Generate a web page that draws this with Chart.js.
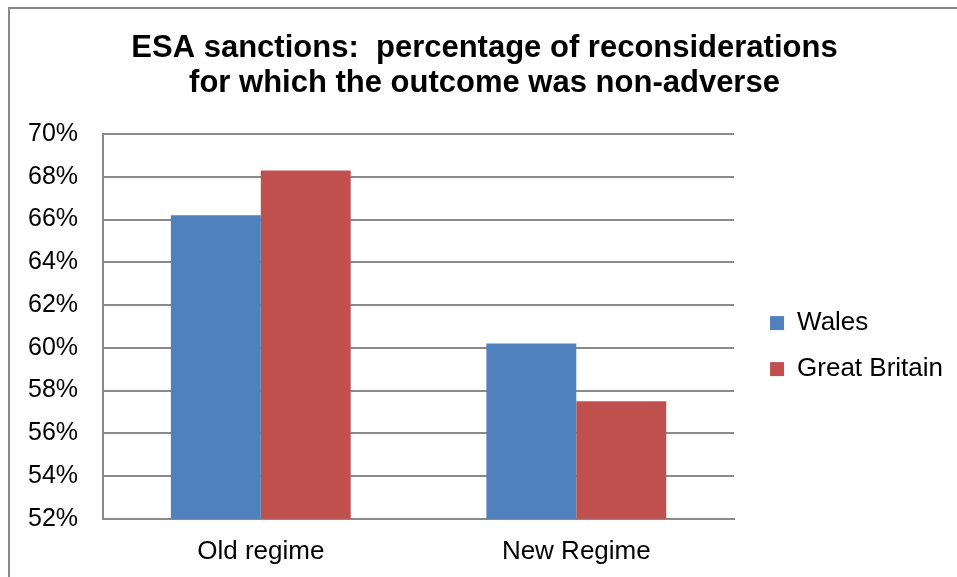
<!DOCTYPE html>
<html>
<head>
<meta charset="utf-8">
<script src="https://cdn.jsdelivr.net/npm/chart.js@4/dist/chart.umd.min.js"></script>
<style>
  body { margin: 0; background: #fff; }
  #wrap { position: relative; width: 957px; height: 577px; overflow: hidden; }
  #frame {
    position: absolute; left: 8px; top: 7px; width: 980px; height: 600px;
    border-left: 2px solid #8a8a8a; border-top: 2px solid #8a8a8a;
    pointer-events: none;
  }
</style>
</head>
<body>
<div id="wrap">
  <canvas id="esaChart" width="957" height="577"></canvas>
  <div id="frame"></div>
</div>
<script>
var categories = ['Old regime', 'New Regime'];
var walesValues = [66.2, 60.2];
var britainValues = [68.3, 57.5];
var yMin = 52, yMax = 70, yStep = 2;
var titleLines = ['ESA sanctions:  percentage of reconsiderations', 'for which the outcome was non-adverse'];

var fontFamily = '"Liberation Sans", Arial, sans-serif';

// nudge legend and title sideways after layout (legend sits a bit off the plot)
var nudgePlugin = {
    id: 'nudge',
    afterLayout: function(chart) {
        if (chart.legend) {
            chart.legend.left += 16;
            chart.legend.right += 16;
        }
        if (chart.titleBlock) {
            chart.titleBlock.left += 14.5;
            chart.titleBlock.right += 14.5;
        }
    }
};

document.addEventListener('DOMContentLoaded', function() {
    var ctx = document.getElementById('esaChart').getContext('2d');
    var esaChart = new Chart(ctx, {
        type: 'bar',
        data: {
            labels: categories,
            datasets: [{
                label: 'Wales',
                data: walesValues,
                backgroundColor: '#4F81BD',
                borderWidth: 0
            }, {
                label: 'Great Britain',
                data: britainValues,
                backgroundColor: '#C0504D',
                borderWidth: 0
            }]
        },
        plugins: [nudgePlugin],
        options: {
            responsive: false,
            animation: false,
            devicePixelRatio: 1,
            layout: {
                padding: { left: 3, right: 20, top: 0, bottom: -8 }
            },
            datasets: {
                bar: {
                    categoryPercentage: 0.57,
                    barPercentage: 1
                }
            },
            scales: {
                x: {
                    grid: { display: false, drawTicks: false },
                    border: { display: true, color: '#8a8a8a', width: 2 },
                    ticks: {
                        color: '#000',
                        padding: 17.5,
                        font: { family: fontFamily, size: 26 }
                    }
                },
                y: {
                    min: yMin,
                    max: yMax,
                    grid: { color: '#8a8a8a', lineWidth: 2, drawTicks: false },
                    border: { display: true, color: '#8a8a8a', width: 2 },
                    ticks: {
                        stepSize: yStep,
                        color: '#000',
                        padding: 25,
                        font: { family: fontFamily, size: 25 },
                        callback: function(v) { return v + '%'; }
                    }
                }
            },
            plugins: {
                title: {
                    display: true,
                    text: titleLines,
                    color: '#000',
                    font: { family: fontFamily, size: 31, weight: 'bold', lineHeight: 1.13 },
                    padding: { top: 31, bottom: 33 }
                },
                legend: {
                    position: 'right',
                    title: {
                        display: true,
                        text: ' ',
                        font: { family: fontFamily, size: 26 },
                        padding: 38
                    },
                    labels: {
                        color: '#000',
                        boxWidth: 14,
                        boxHeight: 14,
                        padding: 20,
                        font: { family: fontFamily, size: 26 }
                    }
                },
                tooltip: { enabled: false }
            }
        }
    });
});
</script>
</body>
</html>
